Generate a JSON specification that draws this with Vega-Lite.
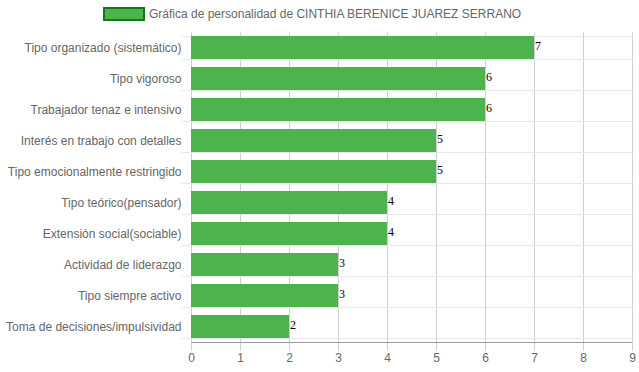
{
  "$schema": "https://vega.github.io/schema/vega-lite/v6.json",
  "width": 441,
  "height": 310,
  "autosize": {"type": "none"},
  "padding": {"left": 191, "top": 32, "right": 7, "bottom": 30},
  "background": "white",
  "config": {"view": {"stroke": null}},
  "data": {"values": [
    {"rasgo": "Tipo organizado (sistemático)", "valor": 7, "serie": "Gráfica de personalidad de CINTHIA BERENICE JUAREZ SERRANO"},
    {"rasgo": "Tipo vigoroso", "valor": 6, "serie": "Gráfica de personalidad de CINTHIA BERENICE JUAREZ SERRANO"},
    {"rasgo": "Trabajador tenaz e intensivo", "valor": 6, "serie": "Gráfica de personalidad de CINTHIA BERENICE JUAREZ SERRANO"},
    {"rasgo": "Interés en trabajo con detalles", "valor": 5, "serie": "Gráfica de personalidad de CINTHIA BERENICE JUAREZ SERRANO"},
    {"rasgo": "Tipo emocionalmente restringido", "valor": 5, "serie": "Gráfica de personalidad de CINTHIA BERENICE JUAREZ SERRANO"},
    {"rasgo": "Tipo teórico(pensador)", "valor": 4, "serie": "Gráfica de personalidad de CINTHIA BERENICE JUAREZ SERRANO"},
    {"rasgo": "Extensión social(sociable)", "valor": 4, "serie": "Gráfica de personalidad de CINTHIA BERENICE JUAREZ SERRANO"},
    {"rasgo": "Actividad de liderazgo", "valor": 3, "serie": "Gráfica de personalidad de CINTHIA BERENICE JUAREZ SERRANO"},
    {"rasgo": "Tipo siempre activo", "valor": 3, "serie": "Gráfica de personalidad de CINTHIA BERENICE JUAREZ SERRANO"},
    {"rasgo": "Toma de decisiones/impulsividad", "valor": 2, "serie": "Gráfica de personalidad de CINTHIA BERENICE JUAREZ SERRANO"}
  ]},
  "encoding": {
    "y": {
      "field": "rasgo", "type": "nominal", "sort": null,
      "scale": {"paddingInner": 0.26, "paddingOuter": 0.13},
      "axis": {
        "title": null, "tickBand": "extent", "grid": true, "gridColor": "#e8e8e8",
        "tickColor": "#e8e8e8", "tickSize": 10, "domain": false,
        "labelFont": "Liberation Sans", "labelFontSize": 12, "labelColor": "#666",
        "labelPadding": 0, "labelLimit": 0
      }
    },
    "x": {
      "field": "valor", "type": "quantitative",
      "scale": {"domain": [0, 9], "nice": false},
      "axis": {
        "title": null, "values": [0,1,2,3,4,5,6,7,8,9], "grid": true, "gridColor": "#cfcfcf",
        "tickColor": "#cfcfcf", "tickSize": 8, "domainColor": "#9a9a9a",
        "labelFont": "Liberation Sans", "labelFontSize": 12, "labelColor": "#666",
        "labelPadding": 2, "labelFlush": false
      }
    }
  },
  "layer": [
    {
      "mark": {"type": "bar", "opacity": 1},
      "encoding": {
        "color": {
          "field": "serie", "type": "nominal",
          "scale": {"range": ["#4cb34f"]},
          "legend": {
            "title": null, "orient": "none", "legendX": -88, "legendY": -39,
            "symbolType": "M-1,-0.3H1V0.3H-1Z", "symbolSize": 1600,
            "symbolStrokeColor": "#0a800a", "symbolStrokeWidth": 2, "symbolOpacity": 1,
            "labelFont": "Liberation Sans", "labelFontSize": 12, "labelColor": "#666",
            "labelLimit": 0, "padding": 0, "labelOffset": 4
          }
        }
      }
    },
    {
      "mark": {"type": "text", "align": "left", "baseline": "middle", "dx": 1, "dy": -2,
        "font": "Liberation Serif", "fontSize": 12, "color": "#000"},
      "encoding": {"text": {"field": "valor", "type": "quantitative"}}
    }
  ]
}
